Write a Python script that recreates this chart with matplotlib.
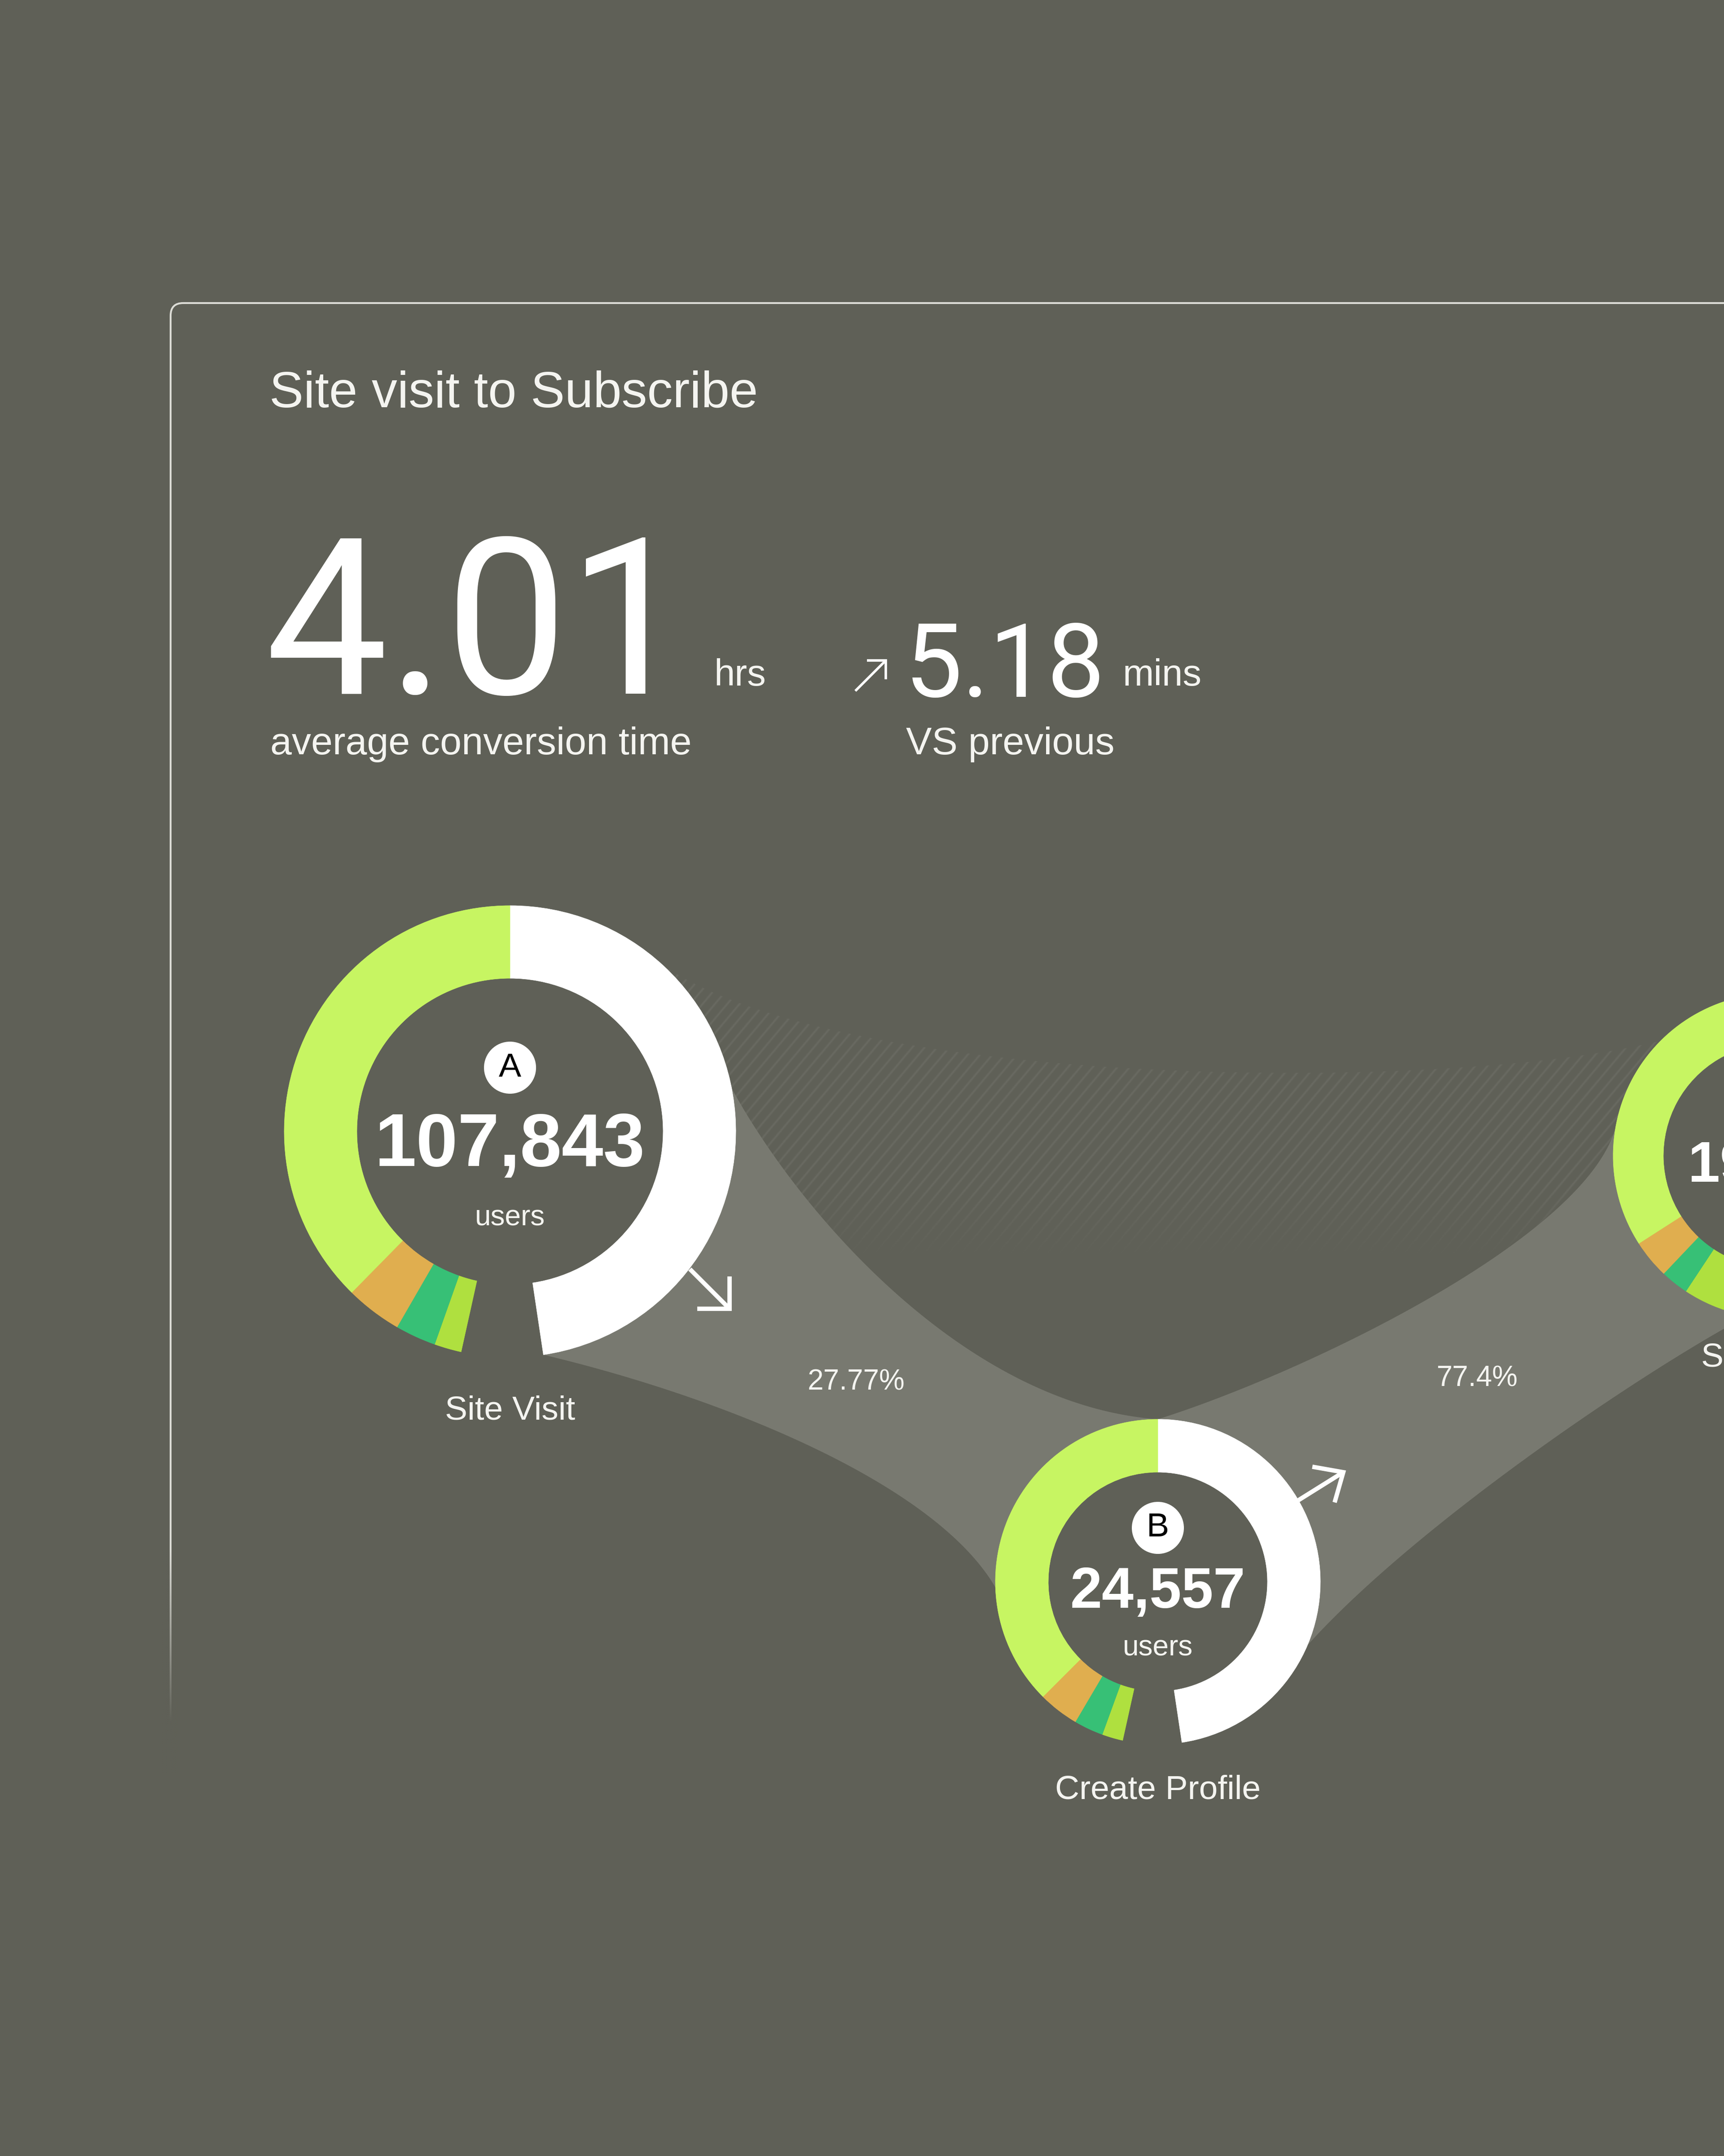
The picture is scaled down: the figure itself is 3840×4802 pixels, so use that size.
import numpy as np
import matplotlib.pyplot as plt
from matplotlib.patches import Wedge, Circle, Polygon, FancyBboxPatch

# ---- data ----
stages = ['Site Visit', 'Create Profile', 'Subscribe']
stage_letters = ['A', 'B', 'C']
users = ['107,843', '24,557', '19,007']
step_rates = ['27.77%', '77.4%']
avg_time, avg_unit = '4.01', 'hrs'
delta_time, delta_unit = '5.18', 'mins'

# ring parts, degrees clockwise from 12 o'clock
ring_parts = ['next step', 'gap', 'seg 4', 'seg 3', 'seg 2', 'seg 1']
ring_a = [171.5, 21.0, 7.0, 10.5, 14.5, 135.5]
ring_b = [171.5, 21.0, 7.5, 10.5, 14.5, 135.0]
ring_c = [171.5, 21.0, 21.0, 10.0, 13.8, 122.7]
ring_colors = ['#ffffff', None, '#afe03f', '#37c076', '#e0ae4f', '#c7f562']

# ---- style / layout ----
W, H = 3840, 4802
BG = '#5f6057'
BAND = '#787970'
TXT = '#f4f4f0'
REG = 'Liberation Sans'
BIG = 'Roboto'

centers = [(1136, 2520), (2579, 3523), (3955, 2574)]
r_out = [503, 362, 362]
r_w = [162, 118, 112]

fig = plt.figure(figsize=(W / 100, H / 100), dpi=100)
fig.patch.set_facecolor(BG)
ax = fig.add_axes([0, 0, 1, 1])
ax.set_facecolor(BG)
ax.set_xlim(0, W)
ax.set_ylim(H, 0)
ax.axis('off')


def ring_pt(i, phi):
    cx, cy = centers[i]
    a = np.radians(phi)
    return np.array([cx + r_out[i] * np.sin(a), cy - r_out[i] * np.cos(a)])


def arc(i, a0, a1, n=80):
    cx, cy = centers[i]
    a = np.radians(np.linspace(a0, a1, n))
    return np.column_stack([cx + r_out[i] * np.sin(a), cy - r_out[i] * np.cos(a)])


def bez(p0, p1, p2, p3, n=120):
    p0, p1, p2, p3 = [np.asarray(p, float) for p in (p0, p1, p2, p3)]
    t = np.linspace(0, 1, n)[:, None]
    return (1 - t) ** 3 * p0 + 3 * (1 - t) ** 2 * t * p1 + 3 * (1 - t) * t ** 2 * p2 + t ** 3 * p3


# panel outline
panel = FancyBboxPatch((380, 675), 4000, 5000, boxstyle='round,pad=0,rounding_size=28',
                       fill=False, ec='#dcdcd6', lw=3, zorder=1)
ax.add_patch(panel)
fade = np.zeros((200, 1, 4))
fade[..., :3] = plt.matplotlib.colors.to_rgb(BG)
fade[:, 0, 3] = np.clip(np.linspace(0, 1.3, 200), 0, 1)
ax.imshow(fade, extent=(360, 400, 3950, 3450), origin='upper', aspect='auto',
          interpolation='bilinear', zorder=6)
ax.add_patch(plt.Rectangle((360, 3950), 40, 1000, fc=BG, ec='none', zorder=6))

# hatched backdrop between A and C
h_top = bez(ring_pt(0, 42), (1850, 2420), (3200, 2440), ring_pt(2, 315))
h_poly = np.vstack([h_top, [[3700, 2830], [1560, 2830]]])
h_patch = Polygon(h_poly, closed=True, fc='none', ec='none', transform=ax.transData)
ax.add_patch(h_patch)
x0, x1, y0, y1 = 1400, 3750, 2100, 2840
xx, yy = np.meshgrid(np.arange(x0, x1), np.arange(y0, y1))
ang = np.radians(50)
d = (xx * np.sin(ang) + yy * np.cos(ang)) % 21.0
stripe = np.clip(1 - np.abs(d - 10.5) / 4.0, 0, 1)
vfade = np.clip((2810 - yy) / 170.0, 0, 1)
img = np.zeros(xx.shape + (4,))
img[..., :3] = 1.0
img[..., 3] = stripe * vfade * 0.07
im = ax.imshow(img, extent=(x0, x1, y1, y0), origin='upper', aspect='auto', zorder=1)
im.set_clip_path(h_patch)

# flow bands
up1 = bez(ring_pt(0, 79), (1780, 2700), (2150, 3130), ring_pt(1, 0))
lo1 = bez(ring_pt(0, 171.5), (1600, 3110), (2080, 3300), ring_pt(1, 268))
band1 = np.vstack([up1, arc(1, 360, 268), lo1[::-1], arc(0, 171.5, 79)])
ax.add_patch(Polygon(band1, closed=True, fc=BAND, ec='none', zorder=2))

up2 = bez(ring_pt(1, 0), (2900, 3060), (3530, 2760), ring_pt(2, 280))
lo2 = bez(ring_pt(1, 113), (3150, 3400), (3650, 3060), ring_pt(2, 190))
band2 = np.vstack([up2, arc(2, 280, 190), lo2[::-1], arc(1, 113, 0)])
ax.add_patch(Polygon(band2, closed=True, fc=BAND, ec='none', zorder=2))

# donuts
for i, parts in enumerate([ring_a, ring_b, ring_c]):
    cx, cy = centers[i]
    ax.add_patch(Circle((cx, cy), r_out[i] - r_w[i], fc=BG, ec='none', zorder=3))
    start = 0.0
    for val, col in zip(parts, ring_colors):
        if col is not None:
            ax.add_patch(Wedge((cx, cy), r_out[i], start - 90, start + val - 90,
                               width=r_w[i], fc=col, ec=col, lw=0.5, zorder=3))
        start += val

# donut labels
badge_dy = [-142, -120, -120]
num_dy = [34, 25, 25]
users_dy = [192, 148, 148]
name_dy = [622, 464, 450]
num_fs = [120, 92, 92]
for i in range(3):
    cx, cy = centers[i]
    ax.add_patch(Circle((cx, cy + badge_dy[i]), 58, fc='white', ec='none', zorder=4))
    ax.text(cx, cy + badge_dy[i], stage_letters[i], fontsize=54, color='black', family=REG,
            ha='center', va='center', zorder=5)
    ax.text(cx, cy + num_dy[i], users[i], fontsize=num_fs[i], fontweight='bold', color='white',
            family=REG, ha='center', va='center', zorder=5)
    ax.text(cx, cy + users_dy[i], 'users', fontsize=46, color=TXT, family=REG,
            ha='center', va='center', zorder=5)
    ax.text(cx, cy + name_dy[i], stages[i], fontsize=54, color=TXT, family=REG,
            ha='center', va='center', zorder=5)

ax.text(1907, 3078, step_rates[0], fontsize=46, color=TXT, family=REG, ha='center', va='center', zorder=5)
ax.text(3290, 3071, step_rates[1], fontsize=46, color=TXT, family=REG, ha='center', va='center', zorder=5)


def arrow(tip, deg, shaft, arm, lw, spread=45):
    tip = np.array(tip, float)
    a = np.radians(deg)
    dvec = np.array([np.cos(a), -np.sin(a)])
    tail = tip - shaft * dvec
    ax.plot([tail[0], tip[0]], [tail[1], tip[1]], color='white', lw=lw,
            solid_capstyle='butt', zorder=5)
    ends = []
    for s in (-spread, spread):
        b = np.radians(deg + 180 + s)
        ends.append(tip + arm * np.array([np.cos(b), -np.sin(b)]))
    ax.plot([ends[0][0], tip[0], ends[1][0]], [ends[0][1], tip[1], ends[1][1]],
            color='white', lw=lw, solid_joinstyle='miter', solid_capstyle='butt', zorder=5)


arrow((1625, 2915), -45, 125, 72, 7)
arrow((2992, 3279), 32, 118, 70, 7, spread=42)
arrow((1973, 1471), 45, 96, 42, 4)

# header
ax.text(600, 907, 'Site visit to Subscribe', fontsize=82, color=TXT, family=REG, va='baseline')
ax.text(590, 1545, avg_time, fontsize=350, color='white', family=BIG, va='baseline')
ax.text(1590, 1527, avg_unit, fontsize=60, color=TXT, family=REG, va='baseline')
ax.text(602, 1680, 'average conversion time', fontsize=62, color=TXT, family=REG, va='baseline')
ax.text(2015, 1552, delta_time, fontsize=165, color='white', family=BIG, va='baseline')
ax.text(2500, 1527, delta_unit, fontsize=60, color=TXT, family=REG, va='baseline')
ax.text(2018, 1680, 'VS previous', fontsize=62, color=TXT, family=REG, va='baseline')

fig.savefig('out.png', dpi=100, facecolor=BG)
